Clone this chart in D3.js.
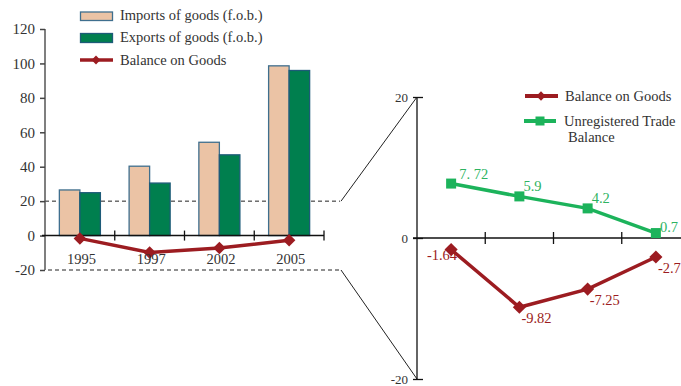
<!DOCTYPE html>
<html>
<head>
<meta charset="utf-8">
<script src="https://cdn.jsdelivr.net/npm/d3@7/dist/d3.min.js"></script>
<style>
  html, body { margin: 0; padding: 0; background: #fff; }
  svg { display: block; font-family: "Liberation Serif", "Times New Roman", serif; }
</style>
</head>
<body>
<svg id="chart" width="681" height="386"></svg>
<script>
// Trade figures by year
const years = ["1995", "1997", "2002", "2005"];
const imports = [26.5, 40.3, 54.2, 98.6];
const exports = [24.9, 30.5, 46.9, 95.9];
const balanceGoods = [-1.64, -9.82, -7.25, -2.7];
const balanceLabels = ["-1.64", "-9.82", "-7.25", "-2.7"];
const unregistered = [7.72, 5.9, 4.2, 0.7];
const unregisteredLabels = ["7. 72", "5.9", "4.2", "0.7"];
const leftTicks = [-20, 0, 20, 40, 60, 80, 100, 120];
const rightTicks = [-20, 0, 20];

const RED = "#9c1c21";
const GREEN = "#1cb35b";
const IMP_FILL = "#ebc3a5", IMP_STROKE = "#3f6f8e";
const EXP_FILL = "#007f4e", EXP_STROKE = "#1d5b78";
const plainNum = d => String(d); // hyphen-minus, as printed

const svg = d3.select("#chart");

// ---------- Left panel: bars ----------
const xL = d3.scaleBand().domain(years).range([45, 324]).padding(0);
const xSub = d3.scaleBand().domain(["imp", "exp"]).range([0, xL.bandwidth()]).paddingOuter(0.7);
const yL = d3.scaleLinear().domain([-20, 120]).range([270, 29]);

// dashed guide lines at +20 / -20 leading to the zoom panel
svg.append("line").attr("x1", 45).attr("x2", 340)
  .attr("y1", yL(20)).attr("y2", yL(20))
  .attr("stroke", "#222").attr("stroke-dasharray", "4,3");
svg.append("line").attr("x1", 48).attr("x2", 340)
  .attr("y1", yL(-20)).attr("y2", yL(-20))
  .attr("stroke", "#222").attr("stroke-dasharray", "4,3");

const groups = svg.append("g").selectAll("g").data(years).join("g")
  .attr("transform", d => `translate(${xL(d)},0)`);
groups.append("rect")
  .attr("x", xSub("imp")).attr("width", xSub.bandwidth())
  .attr("y", (d, i) => yL(imports[i])).attr("height", (d, i) => yL(0) - yL(imports[i]))
  .attr("fill", IMP_FILL).attr("stroke", IMP_STROKE).attr("stroke-width", 1.3);
groups.append("rect")
  .attr("x", xSub("exp")).attr("width", xSub.bandwidth())
  .attr("y", (d, i) => yL(exports[i])).attr("height", (d, i) => yL(0) - yL(exports[i]))
  .attr("fill", EXP_FILL).attr("stroke", EXP_STROKE).attr("stroke-width", 1.3);

// y axis
const axL = svg.append("g").attr("transform", "translate(45,0)")
  .call(d3.axisLeft(yL).tickValues(leftTicks).tickSize(5).tickPadding(5).tickFormat(plainNum));
axL.select(".domain").attr("stroke", "#555").attr("stroke-width", 1.5).attr("d", `M0,${yL(120)}V${yL(-20)}`);
axL.selectAll(".tick line").attr("stroke", "#444").attr("stroke-width", 1.5);
axL.selectAll(".tick text").attr("font-size", 15).attr("fill", "#333")
  .attr("font-family", "Liberation Serif, serif");

// x axis at zero with category separators
const xAxisG = svg.append("g").attr("transform", `translate(0,${yL(0)})`);
xAxisG.append("line").attr("x1", 42).attr("x2", 324).attr("stroke", "#111").attr("stroke-width", 1.5);
xAxisG.selectAll(".sep").data(years.slice(1).concat(["end"])).join("line")
  .attr("x1", (d, i) => xL.range()[0] + xL.step() * (i + 1))
  .attr("x2", (d, i) => xL.range()[0] + xL.step() * (i + 1))
  .attr("y1", -5).attr("y2", 5).attr("stroke", "#111").attr("stroke-width", 1.3);

// balance line on the left panel
const lineL = d3.line().x((d, i) => xL(years[i]) + xL.bandwidth() / 2).y(d => yL(d));
svg.append("path").datum(balanceGoods).attr("d", lineL)
  .attr("fill", "none").attr("stroke", RED).attr("stroke-width", 3.5);
const diamond = d3.symbol().type(d3.symbolDiamond2);
svg.append("g").selectAll("path").data(balanceGoods).join("path")
  .attr("d", diamond.size(100)())
  .attr("transform", (d, i) => `translate(${xL(years[i]) + xL.bandwidth() / 2},${yL(d)})`)
  .attr("fill", RED);

// category labels
svg.append("g").selectAll("text").data(years).join("text")
  .attr("x", d => xL(d) + xL.bandwidth() / 2 + 1.5).attr("y", 264)
  .attr("text-anchor", "middle").attr("font-size", 14.5).attr("fill", "#333").text(d => d);

// left legend
const legL = svg.append("g");
legL.append("rect").attr("x", 80.5).attr("y", 12).attr("width", 32).attr("height", 8.5)
  .attr("fill", IMP_FILL).attr("stroke", IMP_STROKE).attr("stroke-width", 1.3);
legL.append("rect").attr("x", 80.5).attr("y", 33.5).attr("width", 32).attr("height", 9)
  .attr("fill", EXP_FILL).attr("stroke", EXP_STROKE).attr("stroke-width", 1.3);
legL.append("line").attr("x1", 80).attr("x2", 113).attr("y1", 60).attr("y2", 60)
  .attr("stroke", RED).attr("stroke-width", 3.5);
legL.append("path").attr("d", diamond.size(50)()).attr("transform", "translate(96,60)").attr("fill", RED);
[["Imports of goods (f.o.b.)", 20], ["Exports of goods (f.o.b.)", 42], ["Balance on Goods", 65]]
  .forEach(([t, y]) => legL.append("text").attr("x", 120).attr("y", y)
    .attr("font-size", 14.5).attr("fill", "#333").text(t));

// ---------- Right panel: zoomed balances ----------
const xR = d3.scaleBand().domain(years).range([417, 690]).padding(0);
const yR = d3.scaleLinear().domain([-20, 20]).range([379, 97]);

// connectors from the left guide lines
svg.append("line").attr("x1", 341).attr("y1", yL(20)).attr("x2", 417).attr("y2", yR(20))
  .attr("stroke", "#222").attr("stroke-width", 1);
svg.append("line").attr("x1", 341).attr("y1", yL(-20)).attr("x2", 417).attr("y2", yR(-20))
  .attr("stroke", "#222").attr("stroke-width", 1);

const axR = svg.append("g").attr("transform", "translate(417,0)")
  .call(d3.axisLeft(yR).tickValues(rightTicks).tickSize(0).tickPadding(9).tickFormat(plainNum));
axR.select(".domain").attr("stroke", "#111").attr("stroke-width", 1.3).attr("d", `M0,${yR(20)}V${yR(-20)}`);
axR.selectAll(".tick text").attr("font-size", 13).attr("fill", "#333")
  .attr("font-family", "Liberation Serif, serif");
axR.selectAll(".tick").append("line").attr("x1", -4).attr("x2", 6).attr("stroke", "#111").attr("stroke-width", 1.3);

const xAxR = svg.append("g").attr("transform", `translate(0,${yR(0)})`);
xAxR.append("line").attr("x1", 413).attr("x2", 690).attr("stroke", "#111").attr("stroke-width", 1.3);
xAxR.selectAll(".sep").data(years.slice(1)).join("line")
  .attr("x1", d => xR(d)).attr("x2", d => xR(d))
  .attr("y1", -6).attr("y2", 6).attr("stroke", "#111").attr("stroke-width", 1.3);

const cx = (i) => xR(years[i]) + xR.bandwidth() / 2;
const lineR = d3.line().x((d, i) => cx(i)).y(d => yR(d));

// unregistered trade balance
svg.append("path").datum(unregistered).attr("d", lineR)
  .attr("fill", "none").attr("stroke", GREEN).attr("stroke-width", 3.5);
svg.append("g").selectAll("rect").data(unregistered).join("rect")
  .attr("x", (d, i) => cx(i) - 5).attr("y", d => yR(d) - 5)
  .attr("width", 10).attr("height", 10).attr("fill", GREEN);
svg.append("g").selectAll("text").data(unregistered).join("text")
  .attr("x", (d, i) => cx(i) + (i === 0 ? 8 : 4))
  .attr("y", (d, i) => yR(d) - (i === 3 ? 1 : 5))
  .attr("font-size", 14.5).attr("fill", "#2db361").text((d, i) => unregisteredLabels[i]);

// balance on goods
svg.append("path").datum(balanceGoods).attr("d", lineR)
  .attr("fill", "none").attr("stroke", RED).attr("stroke-width", 3.5);
svg.append("g").selectAll("path").data(balanceGoods).join("path")
  .attr("d", diamond.size(110)())
  .attr("transform", (d, i) => `translate(${cx(i)},${yR(d)})`).attr("fill", RED);
svg.append("g").selectAll("text").data(balanceGoods).join("text")
  .attr("x", (d, i) => cx(i) + (i === 0 ? 6 : 2))
  .attr("y", (d, i) => yR(d) + (i === 0 ? 10 : 16))
  .attr("text-anchor", (d, i) => i === 0 ? "end" : "start")
  .attr("font-size", 14.5).attr("fill", RED).text((d, i) => balanceLabels[i]);

// right legend
const legR = svg.append("g");
legR.append("line").attr("x1", 525).attr("x2", 558).attr("y1", 96).attr("y2", 96)
  .attr("stroke", RED).attr("stroke-width", 4);
legR.append("path").attr("d", diamond.size(55)()).attr("transform", "translate(541,96)").attr("fill", RED);
legR.append("line").attr("x1", 524).attr("x2", 556).attr("y1", 121).attr("y2", 121)
  .attr("stroke", GREEN).attr("stroke-width", 4);
legR.append("rect").attr("x", 535.5).attr("y", 116.5).attr("width", 9).attr("height", 9).attr("fill", GREEN);
legR.append("text").attr("x", 565).attr("y", 101).attr("font-size", 14.5).attr("fill", "#333").text("Balance on Goods");
legR.append("text").attr("x", 564).attr("y", 126).attr("font-size", 14.5).attr("fill", "#333").text("Unregistered Trade");
legR.append("text").attr("x", 568).attr("y", 142).attr("font-size", 14.5).attr("fill", "#333").text("Balance");
</script>
</body>
</html>
